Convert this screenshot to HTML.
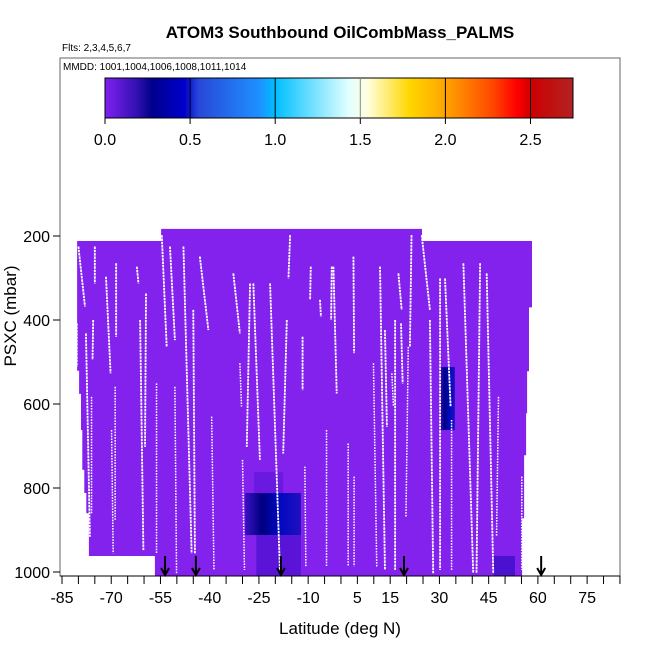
<!DOCTYPE html>
<html><head><meta charset="utf-8"><style>
body{margin:0;background:#fff}
svg{display:block;font-family:"Liberation Sans",sans-serif}
</style></head><body>
<svg id="c" width="650" height="650" viewBox="0 0 650 650">
<defs>
<linearGradient id="cb" x1="0" x2="1" y1="0" y2="0">
<stop offset="0" stop-color="#8020f0"/><stop offset="0.07" stop-color="#3010b0"/>
<stop offset="0.1" stop-color="#00008b"/><stop offset="0.17" stop-color="#0000cd"/>
<stop offset="0.2" stop-color="#2848d8"/><stop offset="0.33" stop-color="#1e90ff"/>
<stop offset="0.364" stop-color="#00bfff"/><stop offset="0.52" stop-color="#e0ffff"/>
<stop offset="0.56" stop-color="#ffffe0"/><stop offset="0.65" stop-color="#ffd700"/>
<stop offset="0.727" stop-color="#ffa500"/><stop offset="0.83" stop-color="#ff4500"/>
<stop offset="0.88" stop-color="#ff0000"/><stop offset="0.91" stop-color="#cd0000"/>
<stop offset="1" stop-color="#b22222"/></linearGradient>
<linearGradient id="bp" x1="0" x2="1"><stop offset="0" stop-color="#3a10c0"/><stop offset="0.3" stop-color="#000080"/><stop offset="0.6" stop-color="#0008c0"/><stop offset="1" stop-color="#2010c0"/></linearGradient>
</defs>
<text x="340" y="38" text-anchor="middle" font-size="17" font-weight="bold">ATOM3 Southbound OilCombMass_PALMS</text>
<text x="62" y="51" font-size="10">Flts: 2,3,4,5,6,7</text>
<text x="63" y="70" font-size="10">MMDD: 1001,1004,1006,1008,1011,1014</text>
<g id="plot"></g>
<rect x="60" y="58" width="560" height="518" fill="none" stroke="#666"/>
<rect x="105" y="78" width="468" height="40" fill="url(#cb)" stroke="#000"/>
<g id="cbt"></g>
<g id="axes"></g>
<text x="340" y="634" text-anchor="middle" font-size="17">Latitude (deg N)</text>
<text transform="translate(16,316) rotate(-90)" text-anchor="middle" font-size="17">PSXC (mbar)</text>
</svg>
<script>
const NS="http://www.w3.org/2000/svg";
const xTicks=[-85,-70,-55,-40,-25,-10,5,15,30,45,60,75];
const yTicks=[200,400,600,800,1000];
const cbTicks=[0,0.5,1.0,1.5,2.0,2.5];
const regionLat=[-80.4,-54.8,-54.8,24.7,24.7,58.2,58.2,57.3,57.3,56.7,56.7,56.4,56.4,55.8,55.8,55.2,55.2,-56.7,-56.7,-76.8,-76.8,-77.6,-77.6,-78.2,-78.2,-78.8,-78.8,-79.2,-79.2,-79.8,-79.8,-80.4];
const regionP=[212,212,183,183,212,212,370,370,522,522,622,622,722,722,872,872,1010,1010,962,962,860,860,812,812,757,757,662,662,576,576,521,521];
const patchLat0=[-29.2,-26.5,-25.8,30.2,46.6];
const patchLat1=[-12.2,-17.6,-12.2,34.7,53.0];
const patchP0=[812,762,912,512,962];
const patchP1=[912,812,1010,662,1010];
const patchFill=["url(#bp)","#6a1ae0","#5a14d8","url(#bp)","#4a12d0"];
const profLat0=[-80,-80.5,-77.7,-76,-75.5,-75,-71.6,-69.9,-68.5,-68.8,-62.2,-61.2,-59.4,-56.2,-54.6,-52.1,-50.6,-48,-45,-43,-39.4,-32.8,-30.8,-30,-27.7,-26.7,-21.6,-16.5,-15.5,-11.7,-11,-9.2,-6.4,-4.4,-2.3,-2.8,3.8,2.2,4,9.9,11.9,13.4,15.5,16.5,17.5,18.3,20.5,21.5,24.6,27.1,30.2,31.7,33.7,37.3,42.4,44.4,48,55.1];
const profP0=[225,408,432,583,400,225,297,662,265,559,273,400,337,551,198,225,559,225,376,249,630,289,503,733,313,313,313,400,198,440,749,273,352,662,273,273,249,694,773,503,273,424,527,400,289,408,464,198,198,400,301,301,638,265,265,289,583,773];
const profLat1=[-78,-80.5,-76.5,-76,-75.7,-75,-70.2,-69.4,-68.5,-68.8,-61.7,-60.2,-59.7,-56.2,-53.1,-50.6,-50.1,-45.5,-44.5,-40.4,-38.7,-30.8,-30.3,-29.4,-28.7,-24.7,-18.6,-17.6,-16,-11.7,-10.7,-9.4,-6.1,-4.4,-1.3,-3,4,2.2,4,10.9,13.4,14,16,16.5,18.5,18.8,19.8,21,27.1,28.1,30.2,33.4,33.7,40.3,41.3,46.4,47.4,55.1];
const profP1=[368,511,916,860,495,313,527,956,440,876,313,948,702,956,464,448,1003,956,956,424,995,432,606,995,702,733,995,718,301,567,987,352,392,987,575,400,479,987,987,987,995,654,606,995,376,551,868,464,376,1003,995,606,995,1003,1003,1003,916,995];
const arrowLat=[-53.6,-44.2,-18.3,19.2,61];
const X=l=>62+(l+85)*3.282, Y=p=>236+(p-200)*0.42, CB=v=>105+v*170.2;
const plot=document.getElementById('plot'), ax=document.getElementById('axes'), cbt=document.getElementById('cbt');
function mk(t,a,par){const e=document.createElementNS(NS,t);for(const k in a)e.setAttribute(k,a[k]);par.appendChild(e);return e;}
let pts=regionLat.map((l,i)=>X(l).toFixed(1)+','+Y(regionP[i]).toFixed(1)).join(' ');
let reg=mk('polygon',{points:pts,fill:'#8322ec'},plot);


patchLat0.forEach((l,i)=>{
 const r=mk('rect',{x:X(l),y:Y(patchP0[i]),width:X(patchLat1[i])-X(l),height:Y(patchP1[i])-Y(patchP0[i]),fill:patchFill[i]},plot);
 
 
});
profLat0.forEach((l,i)=>{
 const solid=profP0[i]<450;
 const ln=mk('line',{x1:X(l),y1:Y(profP0[i]),x2:X(profLat1[i]),y2:Y(profP1[i]),stroke:'#fff','stroke-width':solid?1.8:1.5,'stroke-dasharray':solid?'2.5 0.8':'1.6 1.2'},plot);
 
 
});
arrowLat.forEach(l=>{
 const x=X(l);
 const g=mk('path',{d:`M${x},556 L${x},575 M${x-4},568 L${x},575 L${x+4},568`,stroke:'#000','stroke-width':2,fill:'none'},plot);
 
 
});
mk('line',{x1:60,y1:576,x2:620,y2:576,stroke:'#000'},ax);
for(let l=-85;l<=85;l+=5){mk('line',{x1:X(l),y1:576,x2:X(l),y2:584,stroke:'#000'},ax);}
xTicks.forEach(v=>{const t=mk('text',{x:X(v),y:603,'text-anchor':'middle','font-size':16},ax);t.textContent=v;
 
 });
yTicks.forEach(v=>{mk('line',{x1:53,y1:Y(v),x2:60,y2:Y(v),stroke:'#000'},ax);
 const t=mk('text',{x:50,y:Y(v)+6,'text-anchor':'end','font-size':16},ax);t.textContent=v;
 
 });
cbTicks.forEach(v=>{const x=CB(v);
 if(v>0)mk('line',{x1:x,y1:78,x2:x,y2:118,stroke:v==1.5?'#888':'#000'},cbt);
 mk('line',{x1:x,y1:118,x2:x,y2:124,stroke:'#000'},cbt);
 const t=mk('text',{x:x,y:145,'text-anchor':'middle','font-size':16},cbt);t.textContent=v.toFixed(1);
 
 });
</script>
</body></html>
